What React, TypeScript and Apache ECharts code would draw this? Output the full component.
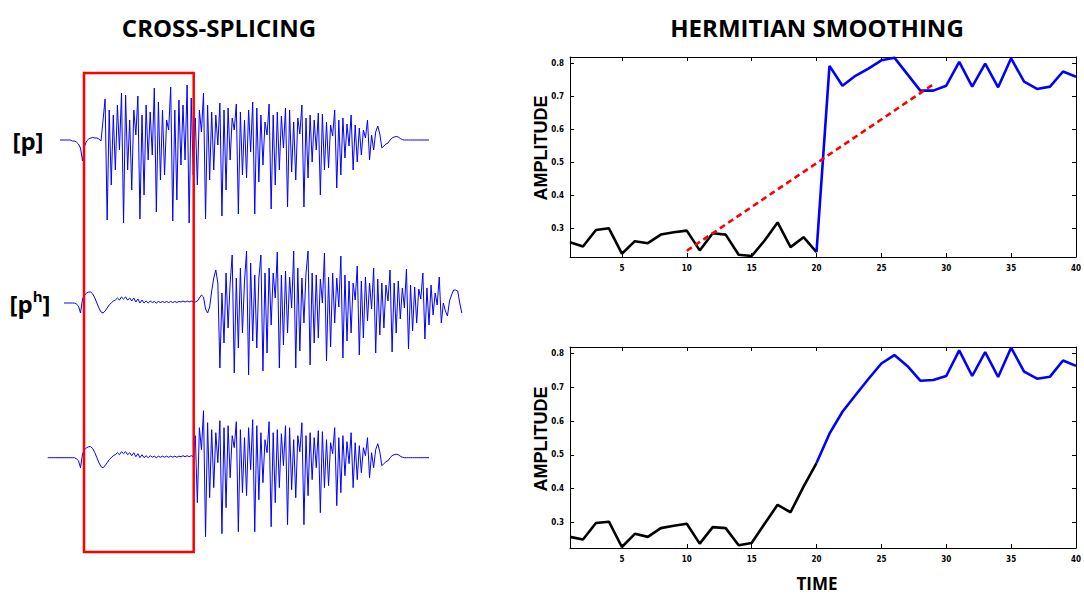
import React, { useEffect, useRef } from "react";
import * as echarts from "echarts";

// ---------- LEFT PANEL: waveform samples (arbitrary amplitude units) ----------
// [p] before the splice point
const pOnset = [
  0, 0, 0, 0, 0, 0, -1, -1, -2, -4, -8, -21, -6, -1, 1, 2, 2.5, 2, 2, 1, -1,
  20, 41,
  -80, 30, -45, 25, -30, 35, -10, 47,
  -83, 45, -30, 20, -50, 30, 5, 44,
  -79, 25, -55, 35, -20, 28, -15, 52,
  -72, 38, -40, 30, -35, 20, 10, 53,
  -81, 30, -60, 40, -25, 35, -20, 55,
  -83, 42, -35,
];
// [p] after the splice point
const pRest = [
  22, -45, 30, 8, 47,
  -79, 35, -40, 28, -30, 25, -5, 37,
  -76, 30, -50, 32, -20, 22, 10, 36,
  -74, 28, -35, 20, -38, 30, -12, 38,
  -74, 32, -42, 25, -25, 18, 5, 36,
  -69, 25, -45, 28, -30, 24, -8, 32,
  -67, 30, -32, 18, -40, 22, 6, 35,
  -67, 22, -38, 25, -22, 20, -10, 27,
  -55, 26, -30, 18, -28, 15, 4, 30,
  -48, 20, -35, 22, -18, 16, -6, 25,
  -30, 15, -22, 12, -15, 10, 2, 20,
  -20, 5, -10, 8, 14, 6, -8, -6, -4, -3, 0, 2, 3, 3.5, 3, 1.5, 0.5, 0,
  0, 0, 0, 0, 0, 0, 0, 0, 0, 0, 0, 0,
];
// [ph] before the splice point (aspiration)
const phOnset = [
  0, 0, 0, 0, 0, 0, -1, -3, -10,
  4, 8, 10, 11, 11, 9, 5, 0,
  -5, -9, -10, -8, -5, -2, 0,
  2, 3, 5, 3, 6, 4, 6, 3, 5, 2, 5, 1, 4, 0, 3, 0, 2, 0, 2,
  0.5, 1.5, 0, 1.5, 0.5, 1.5, 0.5, 1.5, 0.5, 1.5, 0.5, 1.5, 0.5, 1.5,
  1, 2, 1, 2, 1, 2, 1,
];
// [ph] after the splice point
const phRest = [
  1, 2, 5, 8, 6, -6, -10, -4, 12, 25, 33, 20,
  -65, 10, -40, 30, -25, 20, 48,
  -70, 25, -45, 35, -30, 22, 52,
  -72, 40, -38, 28, -45, 25, 48,
  -68, 30, -50, 35, -22, 30, 5, 51,
  -65, 28, -42, 32, -30, 26, -5, 52,
  -65, 35, -48, 25, -20, 30, 52,
  -62, 30, -40, 28, -35, 24, 0, 50,
  -58, 26, -44, 30, -20, 25, -4, 47,
  -55, 28, -38, 22, -30, 20, 3, 37,
  -52, 22, -35, 26, -18, 20, -6, 35,
  -50, 24, -32, 20, -25, 18, 2, 33,
  -49, 20, -30, 22, -16, 15, -5, 34,
  -46, 18, -28, 16, -20, 14, 4, 30,
  -36, 15, -22, 18, -12, 10, -2, 26,
  -20, 0, -8, -13, 2, 8, 13, 13, 12, 0, -10,
];
const leadSilence = [0, 0, 0, 0, 0, 0, 0, 0];

const pStart = 6;
const phStart = 8;

// ---------- RIGHT PANEL ----------
const timeTicks = [5, 10, 15, 20, 25, 30, 35, 40];
const ampTicks = [0.3, 0.4, 0.5, 0.6, 0.7, 0.8];
// raw (cross-spliced) amplitude contour, times 1..20 and 21..40
const rawBefore = [0.258, 0.245, 0.295, 0.3, 0.223, 0.261, 0.255, 0.281, 0.288, 0.293, 0.233, 0.285, 0.281, 0.22, 0.216, 0.263, 0.318, 0.243, 0.273, 0.228];
const rawAfter = [0.793, 0.733, 0.763, 0.785, 0.81, 0.818, 0.768, 0.718, 0.718, 0.733, 0.805, 0.73, 0.8, 0.728, 0.816, 0.745, 0.723, 0.73, 0.776, 0.76];
// hermitian-smoothed contour
const smoothBefore = [0.257, 0.249, 0.298, 0.302, 0.227, 0.266, 0.257, 0.283, 0.29, 0.296, 0.237, 0.286, 0.283, 0.232, 0.239, 0.296, 0.352, 0.33, 0.406, 0.476];
const smoothAfter = [0.563, 0.628, 0.677, 0.725, 0.771, 0.796, 0.764, 0.72, 0.722, 0.734, 0.81, 0.734, 0.805, 0.731, 0.818, 0.747, 0.726, 0.732, 0.78, 0.764];
// linear interpolation guide (time, amplitude)
const interpStart = [10, 0.232];
const interpEnd = [29, 0.737];

const BLUE = "#0000ff";
const tickFont = '"DejaVu Sans Condensed", "DejaVu Sans", sans-serif';
const titleFont = '"Open Sans", "Noto Sans", sans-serif';

function toPairs(values: number[], start: number) {
  return values.map((v, k) => [start + k, v]);
}

function buildOption() {
  const step = 2.05;
  const nSamples = 210;
  const waveGrid = (top: number) => ({ left: 47.7, top, width: step * nSamples, height: 150 });
  const rightGrid = (top: number, height: number) => ({ left: 570, right: 2, top, height });

  const xRightBottom = (gridIndex: number) => ({
    type: "value", gridIndex, min: 1, max: 40, position: "bottom",
    axisLine: { show: true, onZero: false, lineStyle: { color: "#000", width: 1 } },
    axisTick: { show: true, inside: true, length: 4, customValues: timeTicks, lineStyle: { color: "#000" } },
    axisLabel: { show: true, customValues: timeTicks, fontSize: 8, fontWeight: "bold", fontFamily: tickFont, color: "#000", margin: 7 },
    splitLine: { show: false },
  });
  const xRightTop = (gridIndex: number) => ({
    type: "value", gridIndex, min: 1, max: 40, position: "top",
    axisLine: { show: true, onZero: false, lineStyle: { color: "#000", width: 1 } },
    axisTick: { show: true, inside: true, length: 4, customValues: timeTicks, lineStyle: { color: "#000" } },
    axisLabel: { show: false },
    splitLine: { show: false },
  });
  const yRight = (gridIndex: number, min: number, max: number, position: string, labels: boolean) => ({
    type: "value", gridIndex, min, max, position,
    axisLine: { show: true, onZero: false, lineStyle: { color: "#000", width: 1 } },
    axisTick: { show: true, inside: true, length: 4, customValues: ampTicks, lineStyle: { color: "#000" } },
    axisLabel: {
      show: labels, customValues: ampTicks, fontSize: 8, fontWeight: "bold", fontFamily: tickFont, color: "#000", margin: 6,
      formatter: (v: number) => v.toFixed(1),
    },
    splitLine: { show: false },
  });

  const waveSeries = (idx: number, values: number[], start: number) => ({
    type: "line", xAxisIndex: idx, yAxisIndex: idx, data: toPairs(values, start),
    showSymbol: false, symbol: "none", silent: true,
    lineStyle: { color: BLUE, width: 1 },
  });

  const contour = (idx: number, values: number[], start: number, color: string) => ({
    type: "line", xAxisIndex: idx, yAxisIndex: idx, data: toPairs(values, start),
    showSymbol: false, symbol: "none", silent: true,
    lineStyle: { color, width: 2.6 },
  });

  return {
    animation: false,
    backgroundColor: "#fff",
    grid: [waveGrid(80), waveGrid(243), waveGrid(397.7), rightGrid(57, 200), rightGrid(347, 201)],
    xAxis: [
      { type: "value", gridIndex: 0, min: 0, max: nSamples, show: false },
      { type: "value", gridIndex: 1, min: 0, max: nSamples, show: false },
      { type: "value", gridIndex: 2, min: 0, max: nSamples, show: false },
      xRightBottom(3), xRightTop(3), xRightBottom(4), xRightTop(4),
    ].map((a, i) => (i >= 3 ? { ...a, gridIndex: i < 5 ? 3 : 4 } : a)),
    yAxis: [
      { type: "value", gridIndex: 0, min: -90, max: 60, show: false },
      { type: "value", gridIndex: 1, min: -90, max: 60, show: false },
      { type: "value", gridIndex: 2, min: -90, max: 60, show: false },
      yRight(3, 0.213, 0.82, "left", true),
      yRight(3, 0.213, 0.82, "right", false),
      yRight(4, 0.224, 0.82, "left", true),
      yRight(4, 0.224, 0.82, "right", false),
    ],
    series: [
      waveSeries(0, [...pOnset, ...pRest], pStart),
      waveSeries(1, [...phOnset, ...phRest], phStart),
      waveSeries(2, [...leadSilence, ...phOnset, ...pRest], 0),
      // top right: raw
      { ...contour(3, rawBefore, 1, "#000"), xAxisIndex: 3, yAxisIndex: 3 },
      { ...contour(3, [rawBefore[rawBefore.length - 1], ...rawAfter], 20, BLUE), xAxisIndex: 3, yAxisIndex: 3 },
      {
        type: "line", xAxisIndex: 3, yAxisIndex: 3, data: [interpStart, interpEnd],
        showSymbol: false, symbol: "none", silent: true, z: 5,
        lineStyle: { color: "#ff0000", width: 2.6, type: [6, 4] },
      },
      // bottom right: smoothed
      { ...contour(5, smoothBefore, 1, "#000"), xAxisIndex: 5, yAxisIndex: 5 },
      { ...contour(5, [smoothBefore[smoothBefore.length - 1], ...smoothAfter], 20, BLUE), xAxisIndex: 5, yAxisIndex: 5 },
    ],
    graphic: [
      {
        type: "rect", shape: { x: 84, y: 73, width: 109.7, height: 479 }, silent: true, z: 10,
        style: { fill: "none", stroke: "#ff0000", lineWidth: 2.5 },
      },
      {
        type: "text", x: 219, y: 27, silent: true,
        style: { text: "CROSS-SPLICING", fontSize: 24, fontWeight: "bold", fontFamily: titleFont, fill: "#000", textAlign: "center", textVerticalAlign: "middle" },
      },
      {
        type: "text", x: 817, y: 27, silent: true,
        style: { text: "HERMITIAN SMOOTHING", fontSize: 24, fontWeight: "bold", fontFamily: titleFont, fill: "#000", textAlign: "center", textVerticalAlign: "middle" },
      },
      {
        type: "text", x: 28, y: 140, silent: true,
        style: { text: "[p]", fontSize: 24, fontWeight: "bold", fontFamily: titleFont, fill: "#000", textAlign: "center", textVerticalAlign: "middle" },
      },
      {
        type: "text", x: 30, y: 303, silent: true,
        style: {
          text: "{a|[p}{s|h}{a|]}", textAlign: "center", textVerticalAlign: "middle", fill: "#000",
          rich: {
            a: { fontSize: 24, fontWeight: "bold", fontFamily: titleFont, fill: "#000", lineHeight: 30 },
            s: { fontSize: 15, fontWeight: "bold", fontFamily: titleFont, fill: "#000", lineHeight: 30, verticalAlign: "top" },
          },
        },
      },
      {
        type: "text", x: 541, y: 148, rotation: Math.PI / 2, silent: true,
        style: { text: "AMPLITUDE", fontSize: 18, fontWeight: "bold", fontFamily: '"Liberation Sans", Arial, sans-serif', fill: "#000", textAlign: "center", textVerticalAlign: "middle" },
      },
      {
        type: "text", x: 541, y: 439, rotation: Math.PI / 2, silent: true,
        style: { text: "AMPLITUDE", fontSize: 18, fontWeight: "bold", fontFamily: '"Liberation Sans", Arial, sans-serif', fill: "#000", textAlign: "center", textVerticalAlign: "middle" },
      },
      {
        type: "text", x: 817, y: 583, silent: true,
        style: { text: "TIME", fontSize: 17, fontWeight: "bold", fontFamily: titleFont, fill: "#000", textAlign: "center", textVerticalAlign: "middle" },
      },
    ],
  };
}

export default function App() {
  const ref = useRef<HTMLDivElement>(null);
  useEffect(() => {
    if (!ref.current) return;
    const chart = echarts.init(ref.current, null, { renderer: "svg" });
    chart.setOption(buildOption() as any);
    return () => chart.dispose();
  }, []);
  return (
    <div
      ref={ref}
      style={{ position: "fixed", left: 0, top: 0, width: 1084, height: 595, background: "#fff" }}
    />
  );
}
